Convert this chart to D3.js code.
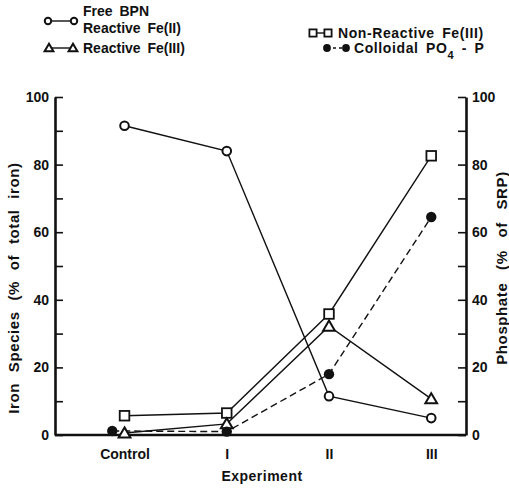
<!DOCTYPE html>
<html>
<head>
<meta charset="utf-8">
<script src="https://cdn.jsdelivr.net/npm/d3@7"></script>
<style>
  body { margin: 0; background: #fff; }
  svg { font-family: "Liberation Sans", Arial, sans-serif; font-weight: bold; }
  text { fill: #111; }
</style>
</head>
<body>
<svg id="chart" width="509" height="489"></svg>
<script>
const categories = ['Control', 'I', 'II', 'III']
const catX = [0, 1, 2, 3]
const colloidalX = [-0.12, 1, 2, 3]

const freeBPN = [91.5, 84, 11.5, 5]
const nonReactive = [5.7, 6.5, 35.8, 82.6]
const reactive3 = [0.6, 3.3, 32.2, 10.7]
const colloidal = [1.2, 1, 18, 64.5]

const yTicks = [0, 20, 40, 60, 80, 100]

const svg = d3.select('#chart')
const ink = '#111'

const x = d3.scaleLinear().domain([-0.68, 3.34]).range([55, 466])
const y = d3.scaleLinear().domain([0, 100]).range([435, 97])

// axes
const styleAxis = g => {
  g.select('.domain').attr('stroke', ink).attr('stroke-width', 2.6)
  g.selectAll('.tick line').attr('stroke', ink).attr('stroke-width', 1.6)
  g.selectAll('.tick text').attr('fill', ink).style('font-size', '14px').style('font-weight', 'bold')
}

svg.append('g')
  .attr('transform', `translate(${x.range()[0]},0)`)
  .call(d3.axisLeft(y).tickValues(d3.range(0, 101, 10)).tickSize(-8).tickSizeOuter(0).tickPadding(6)
    .tickFormat(d => yTicks.includes(d) ? d : ''))
  .call(styleAxis)

svg.append('g')
  .attr('transform', `translate(${x.range()[1]},0)`)
  .call(d3.axisRight(y).tickValues(d3.range(0, 101, 10)).tickSize(-8).tickSizeOuter(0).tickPadding(6)
    .tickFormat(d => yTicks.includes(d) ? d : ''))
  .call(styleAxis)

svg.append('g')
  .attr('transform', `translate(0,${y(0)})`)
  .call(d3.axisBottom(x).tickValues(catX).tickSize(0).tickSizeOuter(0).tickPadding(14)
    .tickFormat(d => categories[d]))
  .call(styleAxis)
  .call(g => g.select('.domain').attr('d', `M${x.range()[0]},0H${x.range()[1]}`))

// axis titles
svg.append('text')
  .attr('transform', `translate(19,288) rotate(-90)`)
  .attr('text-anchor', 'middle').style('font-size', '15px')
  .style('word-spacing', '6px').style('letter-spacing', '0.6px')
  .text('Iron Species (% of total iron)')

svg.append('text')
  .attr('transform', `translate(507,268) rotate(-90)`)
  .attr('text-anchor', 'middle').style('font-size', '15px')
  .style('word-spacing', '8px').style('letter-spacing', '0.6px')
  .text('Phosphate (% of SRP)')

svg.append('text')
  .attr('x', 262).attr('y', 481)
  .attr('text-anchor', 'middle').style('font-size', '14px').style('letter-spacing', '0.5px')
  .text('Experiment')

// markers
const marker = (g, kind, cx, cy, s = 1) => {
  if (kind === 'circle') {
    g.append('circle').attr('cx', cx).attr('cy', cy).attr('r', 4.3 * s)
      .attr('fill', '#fff').attr('stroke', ink).attr('stroke-width', 2)
  } else if (kind === 'dot') {
    g.append('circle').attr('cx', cx).attr('cy', cy).attr('r', 5.2 * s).attr('fill', ink)
  } else if (kind === 'square') {
    const h = 4.8 * s
    g.append('rect').attr('x', cx - h).attr('y', cy - h).attr('width', 2 * h).attr('height', 2 * h)
      .attr('fill', '#fff').attr('stroke', ink).attr('stroke-width', 1.8)
  } else if (kind === 'triangle') {
    const h = 5.6 * s
    g.append('path')
      .attr('d', `M${cx},${cy - h}L${cx + h * 1.05},${cy + h * 0.8}L${cx - h * 1.05},${cy + h * 0.8}Z`)
      .attr('fill', '#fff').attr('stroke', ink).attr('stroke-width', 2).attr('stroke-linejoin', 'miter')
  }
}

const series = [
  {values: nonReactive, xs: catX, kind: 'square', dash: null},
  {values: reactive3, xs: catX, kind: 'triangle', dash: null},
  {values: colloidal, xs: colloidalX, kind: 'dot', dash: '7,4'},
  {values: freeBPN, xs: catX, kind: 'circle', dash: null}
]

const line = d3.line().x(d => x(d[0])).y(d => y(d[1]))
const plot = svg.append('g')

series.forEach(s => {
  const pts = s.values.map((v, i) => [s.xs[i], v])
  plot.append('path').attr('d', line(pts))
    .attr('fill', 'none').attr('stroke', ink).attr('stroke-width', 1.4)
    .attr('stroke-dasharray', s.dash)
})
series.forEach(s => {
  s.values.forEach((v, i) => marker(plot, s.kind, x(s.xs[i]), y(v)))
})

// legend
const legend = svg.append('g').style('font-size', '14px').style('word-spacing', '3px')
const legendItems = [
  {kind: 'circle', x0: 48, x1: 74, y: 21, dash: null, labels: ['Free BPN', 'Reactive Fe(II)'], tx: 83},
  {kind: 'triangle', x0: 49, x1: 73, y: 48, dash: null, labels: ['Reactive Fe(III)'], tx: 83},
  {kind: 'square', x0: 313, x1: 328, y: 33, dash: null, labels: ['Non-Reactive Fe(III)'], tx: 338},
  {kind: 'dot', x0: 327, x1: 346, y: 48, dash: '3,3', labels: null, tx: 354}
]
legendItems.forEach(d => {
  legend.append('line').attr('x1', d.x0).attr('x2', d.x1).attr('y1', d.y).attr('y2', d.y)
    .attr('stroke', ink).attr('stroke-width', 1.4).attr('stroke-dasharray', d.dash)
  marker(legend, d.kind, d.x0, d.y, 0.75)
  marker(legend, d.kind, d.x1, d.y, 0.75)
  const t = legend.append('text').attr('x', d.tx).style('letter-spacing', d.tx > 300 ? '0.6px' : null)
  if (d.labels && d.labels.length === 2) {
    t.attr('y', d.y - 5).text(d.labels[0])
    legend.append('text').attr('x', d.tx).attr('y', d.y + 12).text(d.labels[1])
  } else if (d.labels) {
    t.attr('y', d.y + 5).text(d.labels[0])
  } else {
    t.attr('y', d.y + 5)
    t.append('tspan').text('Colloidal PO')
    t.append('tspan').attr('dy', 6).style('font-size', '11px').text('4')
    t.append('tspan').attr('dy', -6).text(' - P')
  }
})
</script>
</body>
</html>
